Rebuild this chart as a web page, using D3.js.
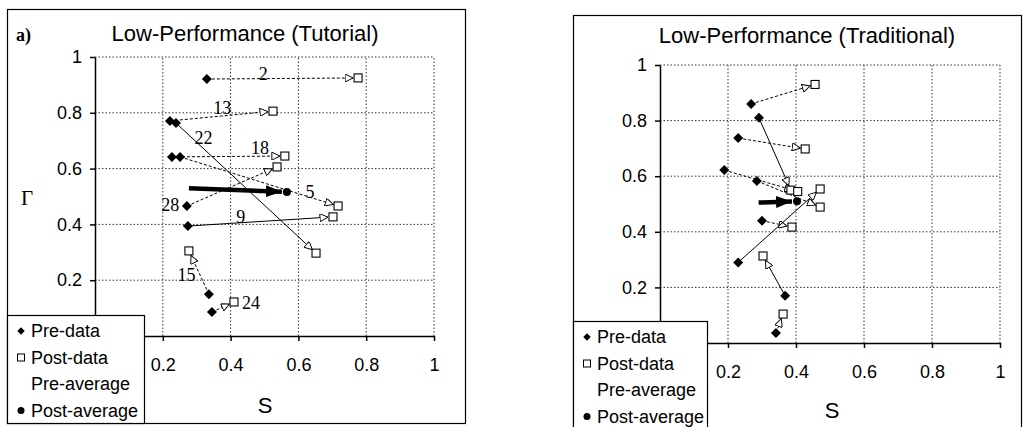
<!DOCTYPE html>
<html>
<head>
<meta charset="utf-8">
<script src="https://cdn.jsdelivr.net/npm/d3@7"></script>
<style>
  body { margin: 0; background: #fff; }
  svg { display: block; }
</style>
</head>
<body>
<div id="chart"></div>
<script>
// ---- data ----
const ticks = [0.2, 0.4, 0.6, 0.8, 1];

// Tutorial panel
const tutIds   = ["2", "13", "22", "18", "5", "28", "9", "15", "24"];
const tutPreS  = [0.330, 0.221, 0.239, 0.227, 0.251, 0.271, 0.274, 0.336, 0.345];
const tutPreG  = [0.921, 0.771, 0.763, 0.642, 0.642, 0.466, 0.394, 0.150, 0.086];
const tutPostS = [0.776, 0.525, 0.652, 0.560, 0.717, 0.537, 0.702, 0.277, 0.410];
const tutPostG = [0.925, 0.806, 0.297, 0.645, 0.466, 0.606, 0.427, 0.305, 0.122];
const tutLabelS = [0.496, 0.375, 0.320, 0.487, 0.634, 0.222, 0.430, 0.270, 0.460];
const tutLabelG = [0.940, 0.817, 0.710, 0.674, 0.516, 0.470, 0.427, 0.220, 0.120];
const tutAvgPre  = [0.277, 0.530];
const tutAvgPost = [0.566, 0.516];

// Traditional panel
const tradPreS  = [0.268, 0.291, 0.230, 0.189, 0.285, 0.300, 0.230, 0.368, 0.341];
const tradPreG  = [0.860, 0.810, 0.737, 0.622, 0.583, 0.440, 0.290, 0.170, 0.036];
const tradPostS = [0.456, 0.385, 0.427, 0.405, 0.471, 0.388, 0.471, 0.303, 0.362];
const tradPostG = [0.930, 0.550, 0.698, 0.545, 0.489, 0.417, 0.554, 0.313, 0.104];
const tradAvgPre  = [0.290, 0.505];
const tradAvgPost = [0.403, 0.510];

const legendItems = ["Pre-data", "Post-data", "Pre-average", "Post-average"];

const sans = "'Liberation Sans', Arial, sans-serif";
const serif = "'Liberation Serif', 'Times New Roman', serif";

const svg = d3.select("#chart").append("svg")
  .attr("width", 1027).attr("height", 427);

const defs = svg.append("defs");
defs.append("marker")
  .attr("id", "open-tri")
  .attr("viewBox", "0 0 10 10")
  .attr("refX", 10).attr("refY", 5)
  .attr("markerWidth", 9).attr("markerHeight", 8)
  .attr("markerUnits", "userSpaceOnUse")
  .attr("orient", "auto")
  .append("path")
  .attr("d", "M0,0 L10,5 L0,10 Z")
  .attr("fill", "#fff").attr("stroke", "#000").attr("stroke-width", 1.2);

defs.append("marker")
  .attr("id", "fat-head")
  .attr("viewBox", "0 0 16 12")
  .attr("refX", 16).attr("refY", 6)
  .attr("markerWidth", 16).attr("markerHeight", 12)
  .attr("markerUnits", "userSpaceOnUse")
  .attr("orient", "auto")
  .append("path")
  .attr("d", "M0,0 L16,6 L0,12 Z")
  .attr("fill", "#000");

const diamond = size => d3.symbol(d3.symbolSquare, size)();

function panel(opt) {
  const g = svg.append("g");
  const x = d3.scaleLinear().domain([0, 1]).range(opt.xr);
  const y = d3.scaleLinear().domain([0, 1]).range(opt.yr);

  // frame
  g.append("rect")
    .attr("x", opt.box[0] + 0.5).attr("y", opt.box[1] + 0.5)
    .attr("width", opt.box[2]).attr("height", opt.box[3])
    .attr("fill", "#fff").attr("stroke", "#000").attr("stroke-width", 1.2);

  // title
  g.append("text")
    .attr("x", opt.titleX).attr("y", opt.titleY)
    .attr("text-anchor", "middle")
    .attr("font-family", sans).attr("font-size", 22)
    .text(opt.title);

  // grid
  const grid = g.append("g")
    .attr("stroke", "#333").attr("stroke-width", 1)
    .attr("stroke-dasharray", "1.5,2");
  grid.selectAll(".v").data(ticks).join("line")
    .attr("x1", d => x(d)).attr("x2", d => x(d))
    .attr("y1", y(0)).attr("y2", y(1));
  grid.selectAll(".h").data(ticks).join("line")
    .attr("x1", x(0)).attr("x2", x(1))
    .attr("y1", d => y(d)).attr("y2", d => y(d));

  // pair arrows (pre -> post)
  const idx = d3.range(opt.preS.length);
  const lines = g.append("g");
  idx.forEach(i => {
    const x0 = x(opt.preS[i]), y0 = y(opt.preG[i]);
    const x1 = x(opt.postS[i]), y1 = y(opt.postG[i]);
    const len = Math.hypot(x1 - x0, y1 - y0);
    const ux = (x1 - x0) / len, uy = (y1 - y0) / len;
    lines.append("line")
      .attr("x1", x0).attr("y1", y0)
      .attr("x2", x1 - ux * 5).attr("y2", y1 - uy * 5)
      .attr("stroke", "#000").attr("stroke-width", 1)
      .attr("stroke-dasharray", opt.solid.includes(i) ? null : "3,2")
      .attr("marker-end", "url(#open-tri)");
  });

  // pre diamonds
  g.append("g").selectAll("path").data(idx).join("path")
    .attr("d", diamond(50))
    .attr("transform", i => `translate(${x(opt.preS[i])},${y(opt.preG[i])}) rotate(45)`)
    .attr("fill", "#000");

  // post squares
  g.append("g").selectAll("rect").data(idx).join("rect")
    .attr("x", i => x(opt.postS[i]) - 4).attr("y", i => y(opt.postG[i]) - 4)
    .attr("width", 8).attr("height", 8)
    .attr("fill", "#fff").attr("stroke", "#000").attr("stroke-width", 1.1);

  // number labels
  if (opt.ids) {
    g.append("g").selectAll("text").data(idx).join("text")
      .attr("x", i => x(opt.labS[i])).attr("y", i => y(opt.labG[i]))
      .attr("dy", "0.35em")
      .attr("text-anchor", "middle")
      .attr("font-family", serif).attr("font-size", 18)
      .attr("fill", "#000")
      .text(i => opt.ids[i]);
  }

  // average arrow
  const ax0 = x(opt.avgPre[0]), ay0 = y(opt.avgPre[1]);
  const ax1 = x(opt.avgPost[0]), ay1 = y(opt.avgPost[1]);
  const al = Math.hypot(ax1 - ax0, ay1 - ay0);
  g.append("line")
    .attr("x1", ax0).attr("y1", ay0)
    .attr("x2", ax1 - (ax1 - ax0) / al * 5).attr("y2", ay1 - (ay1 - ay0) / al * 5)
    .attr("stroke", "#000").attr("stroke-width", 4.5)
    .attr("marker-end", "url(#fat-head)");
  g.append("circle")
    .attr("cx", ax1).attr("cy", ay1).attr("r", 4)
    .attr("fill", "#000");

  // axes
  g.append("g")
    .attr("transform", `translate(${x(0)},0)`)
    .call(d3.axisLeft(y).tickValues(ticks).tickSize(5).tickSizeOuter(0)
      .tickPadding(8).tickFormat(d3.format("")))
    .call(a => a.selectAll("text").attr("font-family", sans).attr("font-size", 18).attr("fill", "#000"))
    .call(a => a.selectAll("line,path").attr("stroke", "#000").attr("stroke-width", 1.5));
  g.append("g")
    .attr("transform", `translate(0,${y(0)})`)
    .call(d3.axisBottom(x).tickValues(ticks).tickSize(5).tickSizeOuter(0)
      .tickPadding(17).tickFormat(d3.format("")))
    .call(a => a.selectAll("text").attr("font-family", sans).attr("font-size", 18).attr("fill", "#000"))
    .call(a => a.selectAll("line,path").attr("stroke", "#000").attr("stroke-width", 1.5));

  // axis titles
  g.append("text")
    .attr("x", opt.sX).attr("y", opt.sY)
    .attr("text-anchor", "middle")
    .attr("font-family", sans).attr("font-size", 22)
    .text("S");
  if (opt.gammaX) {
    g.append("text")
      .attr("x", opt.gammaX).attr("y", opt.gammaY)
      .attr("text-anchor", "middle")
      .attr("font-family", serif).attr("font-size", 21)
      .text("Γ");
  }

  // legend
  const L = opt.legend;
  const lg = g.append("g");
  lg.append("rect")
    .attr("x", L.x + 0.5).attr("y", L.y + 0.5)
    .attr("width", L.w).attr("height", L.h)
    .attr("fill", "#fff").attr("stroke", "#000").attr("stroke-width", 1.2);
  legendItems.forEach((name, k) => {
    const by = L.y + 22 + k * 26.5;
    const mx = L.x + 14, my = by - 6;
    if (k === 0) {
      lg.append("path").attr("d", diamond(28))
        .attr("transform", `translate(${mx},${my}) rotate(45)`).attr("fill", "#000");
    } else if (k === 1) {
      lg.append("rect").attr("x", mx - 3.5).attr("y", my - 3.5)
        .attr("width", 7).attr("height", 7)
        .attr("fill", "#fff").attr("stroke", "#000");
    } else if (k === 3) {
      lg.append("circle").attr("cx", mx).attr("cy", my).attr("r", 3.5).attr("fill", "#000");
    }
    lg.append("text")
      .attr("x", L.x + 24).attr("y", by)
      .attr("font-family", sans).attr("font-size", 18)
      .text(name);
  });
}

panel({
  box: [7, 9, 458, 414],
  xr: [95, 434], yr: [336, 57],
  title: "Low-Performance (Tutorial)", titleX: 245, titleY: 41,
  preS: tutPreS, preG: tutPreG, postS: tutPostS, postG: tutPostG,
  ids: tutIds, labS: tutLabelS, labG: tutLabelG,
  solid: [2, 6],
  avgPre: tutAvgPre, avgPost: tutAvgPost,
  sX: 265, sY: 413, gammaX: 27, gammaY: 205,
  legend: { x: 7, y: 315, w: 137, h: 108 }
});

panel({
  box: [573, 15, 448, 430],
  xr: [660, 1000], yr: [343, 65],
  title: "Low-Performance (Traditional)", titleX: 807, titleY: 43,
  preS: tradPreS, preG: tradPreG, postS: tradPostS, postG: tradPostG,
  solid: [1, 6, 7],
  avgPre: tradAvgPre, avgPost: tradAvgPost,
  sX: 832, sY: 418,
  legend: { x: 573, y: 321, w: 134, h: 120 }
});

// panel tag
svg.append("text")
  .attr("x", 16).attr("y", 41)
  .attr("font-family", serif).attr("font-size", 18).attr("font-weight", "bold")
  .text("a)");
</script>
</body>
</html>
